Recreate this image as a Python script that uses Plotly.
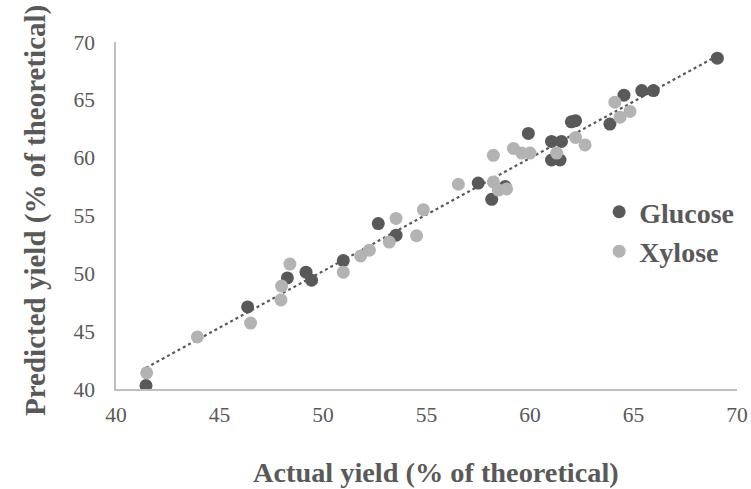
import numpy as np
import plotly.graph_objects as go

glucose_actual = [41.45, 46.36, 48.28, 49.18, 49.45, 50.98, 52.67, 53.53, 57.5, 58.15, 58.8,
                  59.92, 61.04, 61.52, 61.04, 61.45, 62.0, 62.2, 63.86, 64.54, 65.4, 65.96, 69.05]
glucose_pred = [40.3, 47.1, 49.6, 50.1, 49.4, 51.1, 54.3, 53.3, 57.8, 56.4, 57.5,
                62.1, 61.4, 61.4, 59.8, 59.8, 63.1, 63.2, 62.9, 65.4, 65.8, 65.8, 68.6]

xylose_actual = [41.48, 43.93, 46.5, 47.97, 48.0, 48.4, 50.98, 51.82, 52.24, 53.2, 53.53, 54.52,
                 54.85, 56.54, 58.23, 58.23, 58.47, 58.87, 59.2, 59.6, 60.0, 61.29, 62.2, 62.66,
                 64.1, 64.35, 64.83]
xylose_pred = [41.4, 44.5, 45.7, 47.7, 48.9, 50.8, 50.1, 51.5, 52.0, 52.7, 54.75, 53.25,
               55.5, 57.7, 60.2, 57.9, 57.2, 57.3, 60.8, 60.4, 60.4, 60.4, 61.75, 61.1,
               64.8, 63.5, 64.0]

x_ticks = [40, 45, 50, 55, 60, 65, 70]
y_ticks = [40, 45, 50, 55, 60, 65, 70]

x_title = "Actual yield (% of theoretical)"
y_title = "Predicted yield (% of theoretical)"

DARK = "#595959"
LIGHT = "#b3b3b3"
FONT = "Liberation Serif"

all_x = np.array(glucose_actual + xylose_actual)
all_y = np.array(glucose_pred + xylose_pred)
slope, intercept = np.polyfit(all_x, all_y, 1)
tx = np.array([all_x.min(), all_x.max()])
ty = slope * tx + intercept

fig = go.Figure()
fig.add_trace(go.Scatter(x=tx, y=ty, mode="lines", showlegend=False, hoverinfo="skip",
                         line=dict(color=DARK, width=2.2, dash="dot")))
fig.add_trace(go.Scatter(x=glucose_actual, y=glucose_pred, mode="markers", name="Glucose",
                         marker=dict(color=DARK, size=13, line=dict(width=0))))
fig.add_trace(go.Scatter(x=xylose_actual, y=xylose_pred, mode="markers", name="Xylose",
                         marker=dict(color=LIGHT, size=13, line=dict(width=0))))

fig.update_layout(
    width=751, height=489,
    margin=dict(l=116, r=14, t=42, b=100),
    paper_bgcolor="white", plot_bgcolor="white",
    font=dict(family=FONT, color=DARK, size=21),
    legend=dict(x=0.778, y=0.582, xanchor="left", yanchor="top",
                font=dict(family=FONT, size=28, color=DARK, weight="bold"),
                bgcolor="rgba(0,0,0,0)", itemwidth=30, tracegroupgap=0),
    xaxis=dict(range=[40, 70], tickvals=x_ticks, showgrid=False, zeroline=False,
               showline=True, linecolor="#bfbfbf", linewidth=1.5, ticks="",
               ticklabelstandoff=5, automargin=False,
               tickfont=dict(family=FONT, size=21.5, color=DARK)),
    yaxis=dict(range=[40, 70], tickvals=y_ticks, showgrid=False, zeroline=False,
               showline=True, linecolor="#bfbfbf", linewidth=1.5, ticks="",
               ticklabelstandoff=15, automargin=False,
               tickfont=dict(family=FONT, size=21.5, color=DARK)),
    annotations=[
        dict(text=x_title, xref="paper", yref="paper", x=0.516, y=0, xanchor="center",
             yanchor="middle", yshift=-83, showarrow=False,
             font=dict(family=FONT, size=28.3, color=DARK, weight="bold")),
        dict(text=y_title, xref="paper", yref="paper", x=0, y=0.513, xanchor="center",
             yanchor="middle", xshift=-80, textangle=-90, showarrow=False,
             font=dict(family=FONT, size=29, color=DARK, weight="bold")),
    ],
)

fig.write_html("out.html", config={"displayModeBar": False},
               post_script="document.body.style.margin='0';")
